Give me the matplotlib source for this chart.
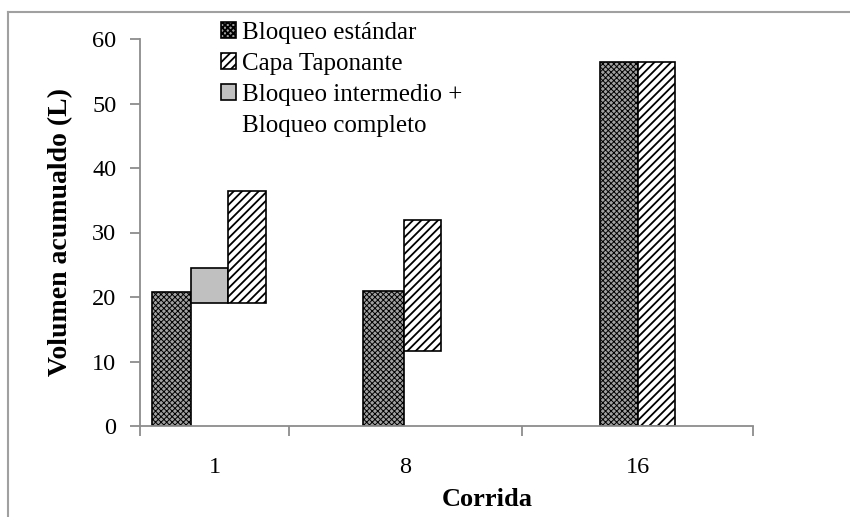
import matplotlib
matplotlib.use('Agg')
import matplotlib.pyplot as plt
from matplotlib.patches import Patch

# ---- data ----
categories = ['1', '8', '16']
estandar_bottom = [0.0, 0.0, 0.0]
estandar_top = [20.7, 21.0, 56.5]
intermedio_bottom = [19.0]
intermedio_top = [24.5]
capa_bottom = [19.0, 11.6, 0.0]
capa_top = [36.5, 32.0, 56.5]
yticks = [0, 10, 20, 30, 40, 50, 60]

labels = ['Bloqueo estándar', 'Capa Taponante',
          'Bloqueo intermedio +', 'Bloqueo completo']

# ---- layout (pixel-like x units along the axis) ----
bounds = [0, 149, 382, 613]
centers = [(bounds[i] + bounds[i + 1]) / 2 for i in range(3)]
est_off, est_w = [-62.5, -42.5, -37.5], [39, 41, 38]
int_off, int_w = [-23.5], [37]
cap_off, cap_w = [13.5, -1.5, 0.5], [38, 37, 37]

plt.rcParams['font.family'] = ['Liberation Serif', 'DejaVu Serif']
plt.rcParams['hatch.linewidth'] = 1.3

W, H = 850, 517
fig = plt.figure(figsize=(W / 100, H / 100), dpi=100)
ax = fig.add_axes([140 / W, 1 - 426 / H, (753 - 140) / W, (426 - 39) / H])

edge = 'black'
lw = 1.2
est_style = dict(facecolor='#a0a0a0', edgecolor=edge, hatch='xxxxxx', linewidth=lw)
cap_style = dict(facecolor='white', edgecolor=edge, hatch='////', linewidth=lw)
int_style = dict(facecolor='#c0c0c0', edgecolor=edge, linewidth=lw)

with plt.rc_context({'hatch.linewidth': 0.7}):
    for i in range(3):
        ax.bar(centers[i] + est_off[i], estandar_top[i] - estandar_bottom[i],
               width=est_w[i], bottom=estandar_bottom[i], align='edge', **est_style)
    est_handle = Patch(**est_style)
for i in range(len(intermedio_top)):
    ax.bar(centers[i] + int_off[i], intermedio_top[i] - intermedio_bottom[i],
           width=int_w[i], bottom=intermedio_bottom[i], align='edge', **int_style)
for i in range(3):
    ax.bar(centers[i] + cap_off[i], capa_top[i] - capa_bottom[i],
           width=cap_w[i], bottom=capa_bottom[i], align='edge', **cap_style)

ax.set_xlim(bounds[0], bounds[-1])
ax.set_ylim(0, 60)
ax.set_yticks(yticks)
ax.set_xticks(centers)
ax.set_xticklabels(categories)
ax.set_xticks(bounds, minor=True)

axis_color = '#8c8c8c'
for s in ['top', 'right']:
    ax.spines[s].set_visible(False)
for s in ['left', 'bottom']:
    ax.spines[s].set_color(axis_color)
    ax.spines[s].set_linewidth(1.3)

ax.tick_params(axis='y', direction='out', length=7, width=1.3, color=axis_color,
               labelsize=17.5, pad=10)
ax.tick_params(axis='x', which='major', length=0, labelsize=17.5, pad=22)
ax.tick_params(axis='x', which='minor', direction='out', length=7, width=1.3,
               color=axis_color)

ax.set_ylabel('Volumen acumualdo (L)', fontsize=20, fontweight='bold')
ax.yaxis.set_label_coords((73 - 140) / (753 - 140), 0.5)
ax.set_xlabel('Corrida', fontsize=19, fontweight='bold')
ax.xaxis.set_label_coords((487 - 140) / (753 - 140), -(500 - 426) / (426 - 39))
ax.xaxis.label.set_va('center')

handles = [est_handle, Patch(**cap_style), Patch(**int_style),
           Patch(facecolor='none', edgecolor='none')]
fig.legend(handles, labels, loc='upper left',
           bbox_to_anchor=(221 / W, 1 - 22 / H), frameon=False, fontsize=18,
           handlelength=0.6, handleheight=0.6, handletextpad=0.25,
           labelspacing=0.36, borderpad=0, borderaxespad=0)

# figure border (top and left visible)
fig.add_artist(plt.Line2D([8 / W, 1], [1 - 12 / H, 1 - 12 / H],
                          transform=fig.transFigure, color='#a0a0a0', lw=1.5))
fig.add_artist(plt.Line2D([8 / W, 8 / W], [0, 1 - 12 / H],
                          transform=fig.transFigure, color='#a0a0a0', lw=1.5))

fig.savefig('out.png', dpi=100)
